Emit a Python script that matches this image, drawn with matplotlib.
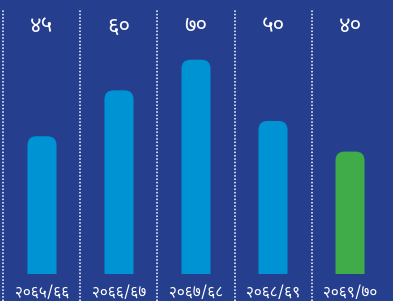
import matplotlib
matplotlib.use("Agg")
import matplotlib.pyplot as plt
from matplotlib import font_manager
from matplotlib.patches import FancyBboxPatch, Rectangle

# data
years = ["२०६५/६६", "२०६६/६७", "२०६७/६८", "२०६८/६९", "२०६९/७०"]
values = [45, 60, 70, 50, 40]
value_labels = ["४५", "६०", "७०", "५०", "४०"]
colors = ["#0093d3", "#0093d3", "#0093d3", "#0093d3", "#3fac49"]

bg = "#253f8e"

# pick a devanagari font that is actually installed
installed = {f.name for f in font_manager.fontManager.ttflist}
deva_font = "DejaVu Sans"
for name in ["Noto Sans Devanagari", "Mukta", "Hind", "Poppins", "Annapurna SIL", "FreeSans"]:
    if name in installed:
        deva_font = name
        break
families = [deva_font, "DejaVu Sans"]

fig = plt.figure(figsize=(3.93, 3.01), dpi=100)
fig.patch.set_facecolor(bg)
ax = fig.add_axes([0, 0, 1, 1])
ax.set_facecolor(bg)
ax.set_xlim(-0.545, 4.558)
ax.set_ylim(-8.8, 89.5)
ax.axis("off")

bars = ax.bar(range(len(values)), values, width=0.377, color=colors)

# rounded tops: replace each bar with a rounded box clipped at the baseline
px_x = 393 / (4.558 + 0.545)
px_y = 301 / (89.5 + 8.8)
for b, c in zip(bars, colors):
    x, w, h = b.get_x(), b.get_width(), b.get_height()
    b.set_visible(False)
    box = FancyBboxPatch((x, -10), w, h + 10,
                         boxstyle="round,pad=0,rounding_size=%f" % (9 / px_x),
                         mutation_aspect=px_x / px_y, fc=c, ec="none")
    ax.add_patch(box)
    clip = Rectangle((x - 1, 0), w + 2, h + 5, transform=ax.transData)
    box.set_clip_path(clip)

for i in range(len(values)):
    ax.plot([i - 0.5, i - 0.5], [-8.8, 86.5], color="white", lw=1.1,
            linestyle=(0, (1, 1.2)))
    ax.text(i, 80.7, value_labels[i], color="white", fontsize=16,
            fontweight="bold", ha="center", va="center", family=families)
    ax.text(i, -6.3, years[i], color="white", fontsize=11,
            ha="center", va="center", family=families)

fig.savefig("out.png", dpi=100, facecolor=bg)
